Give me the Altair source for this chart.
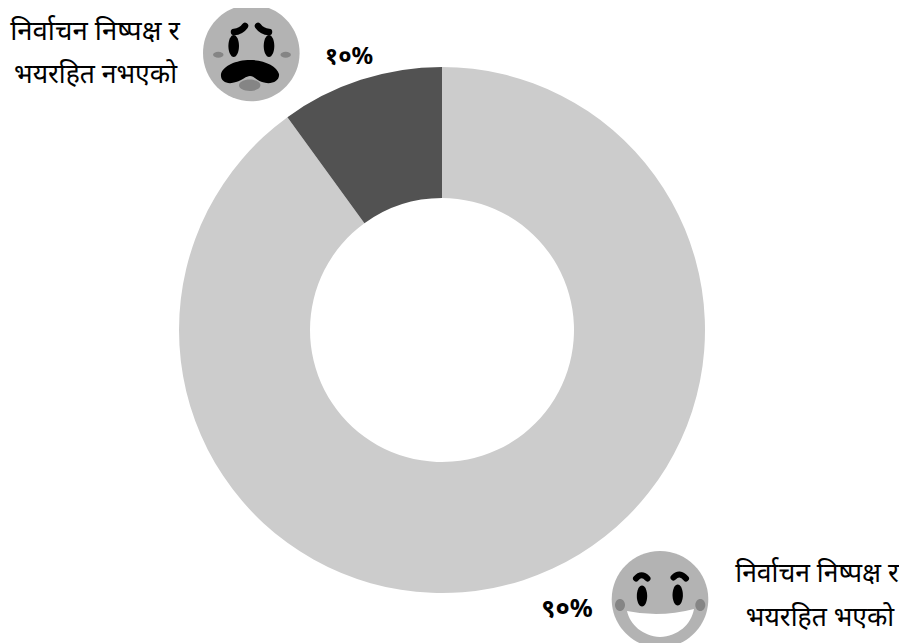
import altair as alt
import pandas as pd

categories = ["निष्पक्ष", "अनिष्पक्ष"]
shares = [90, 10]
colors = ["#cccccc", "#525252"]
pct_labels = ["९०%", "१०%"]
top_label = ["निर्वाचन निष्पक्ष र", "भयरहित नभएको"]
bottom_label = ["निर्वाचन निष्पक्ष र", "भयरहित भएको"]

W, H = 891, 635
one = pd.DataFrame({"a": [1]})

df = pd.DataFrame({"cat": categories, "share": shares, "order": [0, 1]})
donut = alt.Chart(df).mark_arc(outerRadius=263, innerRadius=132).encode(
    theta=alt.Theta("share:Q", stack=True),
    order=alt.Order("order:Q"),
    color=alt.Color("cat:N", scale=alt.Scale(domain=categories, range=colors), legend=None),
    x=alt.value(442 - 8),
    y=alt.value(330 - 8),
)

def ell(rx, ry):
    return f"M{-rx},0A{rx},{ry} 0 1 1 {rx},0A{rx},{ry} 0 1 1 {-rx},0Z"

def fill(px, py, path, color):
    return alt.Chart(one).mark_point(shape=path, size=4, filled=True, fill=color, stroke=None, opacity=1).encode(
        x=alt.value(px - 8), y=alt.value(py - 8))

def line(px, py, path, color, sw):
    return alt.Chart(one).mark_point(shape=path, size=4, filled=False, stroke=color, strokeWidth=sw,
                                     strokeCap="round", opacity=1).encode(
        x=alt.value(px - 8), y=alt.value(py - 8))

def txt(px, py, s, size=26.5, weight="normal"):
    return alt.Chart(one).mark_text(text=s, fontSize=size, fontWeight=weight, font="Noto Sans", color="black",
                                    align="center", baseline="alphabetic").encode(
        x=alt.value(px - 8), y=alt.value(py - 8))

GRAY, CHEEK, BLACK = "#b3b3b3", "#858585", "#000000"

frown = [
    fill(251.3, 53, ell(48.3, 48.3), GRAY),
    fill(233.7, 46, ell(5.3, 11), BLACK),
    fill(269, 46, ell(5.3, 11), BLACK),
    line(0, 0, "M234,32Q241,31.5 245,26", BLACK, 6.5),
    line(0, 0, "M258,26Q262,31.5 269,32", BLACK, 6.5),
    fill(218.3, 54.7, ell(5.2, 3), CHEEK),
    fill(285.7, 54.7, ell(5.2, 3), CHEEK),
    fill(0, 0, "M221,74C223,66 236,60 250,60C264,60 277,66 279,74C280,82 270,85 262,82C256,80 254,76 250,76C246,76 243,80 236,82C228,85 220,82 221,74Z", BLACK),
    fill(249.7, 85.3, ell(10.7, 5.7), CHEEK),
]
smile = [
    fill(660, 599.3, ell(48.3, 48.3), GRAY),
    fill(642, 596, ell(5.2, 10.5), BLACK),
    fill(677.7, 595, ell(5.2, 10.5), BLACK),
    line(0, 0, "M636,578.5Q641.5,572 647.5,578.5", BLACK, 6),
    line(0, 0, "M673.5,577.5Q679.5,571 686,578.5", BLACK, 6),
    fill(620, 605, ell(5, 6), CHEEK),
    fill(700.3, 605, ell(5, 6), CHEEK),
    fill(0, 0, "M627,611Q660,618 694,609C691,625 678,636 660,637C643,636 630,625 627,611Z", "#ffffff"),
]
labels = [
    txt(95, 40, top_label[0], size=27.5),
    txt(95.5, 83, top_label[1]),
    txt(817, 582, bottom_label[0], size=26.5),
    txt(820, 626, bottom_label[1]),
    txt(349, 64, pct_labels[1], size=24, weight="bold"),
    txt(567, 617, pct_labels[0], size=25.5, weight="bold"),
]

chart = alt.layer(donut, *frown, *smile, *labels).properties(
    width=W, height=H, padding=0, autosize=alt.AutoSizeParams(type="none"),
).configure_view(stroke=None).resolve_scale(color="independent")

chart.save("out.html", embed_options={"renderer": "svg", "actions": False})
